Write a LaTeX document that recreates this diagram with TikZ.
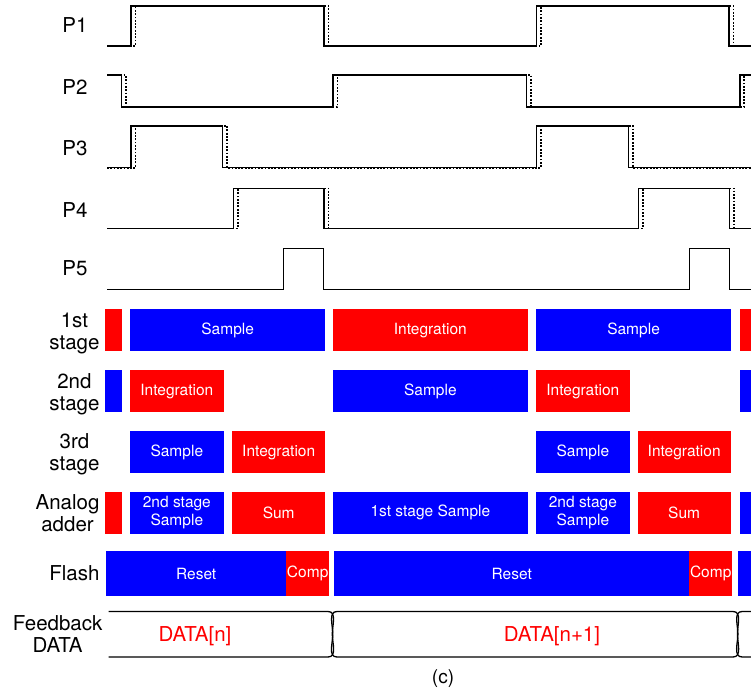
\documentclass[tikz,border=0pt]{standalone}
\usepackage{fontspec}
\setmainfont{TeX Gyre Heros}
\usepackage{xcolor}
\usepackage{tikz}
\usetikzlibrary{positioning}
\definecolor{phred}{HTML}{FF0000}
\definecolor{phblue}{HTML}{0000FF}
\newcommand{\phasefont}{\fontsize{15.5}{18.5}\selectfont}
\newcommand{\labfont}{\fontsize{20.5}{22}\selectfont}
\tikzset{
    wave/.style={
        line width=1.5pt, color=black
    },
    wavedot/.style={
        line width=1.6pt, color=black, dash pattern=on 1.8pt off 1.5pt
    },
    phasebox/.style={
        rectangle, fill=#1, draw=none, text=white,
        anchor=north west, inner sep=0pt,
        font=\phasefont, align=center
    },
    phasebox/.default=phblue,
    rowlab/.style={
        anchor=east, font=\labfont, align=center
    },
    buslab/.style={
        font=\labfont, text=phred
    },
    busline/.style={
        line width=1.3pt, color=black
    },
}
\begin{document}
\begin{tikzpicture}[x=1pt, y=-1pt]
    \useasboundingbox (0,0) rectangle (751,690);

    % Clock phases
    \node[rowlab] (p1) at (91,25) {P1};
    \node[rowlab] (p2) at (91,87) {P2};
    \node[rowlab] (p3) at (91,148) {P3};
    \node[rowlab] (p4) at (91,210) {P4};
    \node[rowlab] (p5) at (91,268) {P5};

    \draw[wave] (107,46) -- (131,46) -- (131,6) -- (324,6) -- (324,46) -- (536.7,46) -- (536.7,6) -- (729,6) -- (729,46) -- (751,46);
    \draw[wavedot] (107,46) -- (135.5,46) -- (135.5,6) -- (328.5,6) -- (328.5,46) -- (541,46) -- (541,6) -- (733.5,6) -- (733.5,46) -- (751,46);

    \draw[wave] (107,75) -- (121.7,75) -- (121.7,107) -- (333,107) -- (333,75) -- (526.7,75) -- (526.7,107) -- (740,107) -- (740,75) -- (751,75);
    \draw[wavedot] (107,75) -- (125.7,75) -- (125.7,107) -- (337.3,107) -- (337.3,75) -- (530.7,75) -- (530.7,107) -- (744,107) -- (744,75) -- (751,75);

    \draw[wave] (107,167.7) -- (131,167.7) -- (131,126) -- (222.7,126) -- (222.7,167.7) -- (536.7,167.7) -- (536.7,126) -- (628.3,126) -- (628.3,167.7) -- (751,167.7);
    \draw[wavedot] (107,167.7) -- (135.5,167.7) -- (135.5,126) -- (226.9,126) -- (226.9,167.7) -- (541,167.7) -- (541,126) -- (632.7,126) -- (632.7,167.7) -- (751,167.7);

    \draw[wave] (107,228.3) -- (233.3,228.3) -- (233.3,188.3) -- (324,188.3) -- (324,228.3) -- (638.3,228.3) -- (638.3,188.3) -- (729.3,188.3) -- (729.3,228.3) -- (751,228.3);
    \draw[wavedot] (107,228.3) -- (237.7,228.3) -- (237.7,188.3) -- (328.5,188.3) -- (328.5,228.3) -- (642.7,228.3) -- (642.7,188.3) -- (733.8,188.3) -- (733.8,228.3) -- (751,228.3);

    \draw[wave] (107,289.3) -- (283.3,289.3) -- (283.3,248.3) -- (323.3,248.3) -- (323.3,289.3) -- (689.3,289.3) -- (689.3,248.3) -- (729.3,248.3) -- (729.3,289.3) -- (751,289.3);

    % 1st stage
    \node[rowlab] (st1) at (103,333) {1st\\stage};
    \node[phasebox=phred, minimum width=17, minimum height=42] (s1a) at (105,309) {};
    \node[phasebox, minimum width=195, minimum height=42] (s1b) at (130,309) {Sample};
    \node[phasebox=phred, minimum width=194.3, minimum height=42] (s1c) at (333,309) {Integration};
    \node[phasebox, minimum width=194.7, minimum height=42] (s1d) at (536,309) {Sample};
    \node[phasebox=phred, minimum width=11.7, minimum height=42] (s1e) at (739.3,309) {};

    % 2nd stage
    \node[rowlab] (st2) at (103,394) {2nd\\stage};
    \node[phasebox, minimum width=17, minimum height=42] (s2a) at (105,370) {};
    \node[phasebox=phred, minimum width=93.3, minimum height=42] (s2b) at (130,370) {Integration};
    \node[phasebox, minimum width=194.3, minimum height=42] (s2c) at (333,370) {Sample};
    \node[phasebox=phred, minimum width=93.3, minimum height=42] (s2d) at (536,370) {Integration};
    \node[phasebox, minimum width=11.7, minimum height=42] (s2e) at (739.3,370) {};

    % 3rd stage
    \node[rowlab] (st3) at (103,454) {3rd\\stage};
    \node[phasebox, minimum width=93.3, minimum height=42] (s3a) at (130,431) {Sample};
    \node[phasebox=phred, minimum width=93, minimum height=42] (s3b) at (232,431) {Integration};
    \node[phasebox, minimum width=93.3, minimum height=42] (s3c) at (536,431) {Sample};
    \node[phasebox=phred, minimum width=93.3, minimum height=42] (s3d) at (637.3,431) {Integration};

    % Analog adder
    \node[rowlab] (add) at (103,513) {Analog\\adder};
    \node[phasebox=phred, minimum width=17, minimum height=41.6] (s4a) at (105,491.7) {};
    \node[phasebox, minimum width=93.3, minimum height=41.6] (s4b) at (130,491.7) {2nd stage\\Sample};
    \node[phasebox=phred, minimum width=93, minimum height=41.6] (s4c) at (232,491.7) {Sum};
    \node[phasebox, minimum width=194.3, minimum height=41.6] (s4d) at (333,491.7) {1st stage Sample};
    \node[phasebox, minimum width=93.3, minimum height=41.6] (s4e) at (536,491.7) {2nd stage\\Sample};
    \node[phasebox=phred, minimum width=93.3, minimum height=41.6] (s4f) at (637.3,491.7) {Sum};
    \node[phasebox, minimum width=11.7, minimum height=41.6] (s4g) at (739.3,491.7) {};

    % Flash
    \node[rowlab] (fl) at (103,573) {Flash};
    \node[phasebox, minimum width=180, minimum height=45] (f1) at (106,551) {Reset};
    \node[phasebox=phred, minimum width=43, minimum height=45] (f2) at (286,551) {Comp};
    \node[phasebox, minimum width=355, minimum height=45] (f3) at (334,551) {Reset};
    \node[phasebox=phred, minimum width=43, minimum height=45] (f4) at (689,551) {Comp};
    \node[phasebox, minimum width=13.5, minimum height=45] (f5) at (737.5,551) {};

    % Feedback data bus
    \node[rowlab] (fb) at (106,634) {Feedback\\DATA};
    \draw[busline] (108.7,611.5) -- (328,611.5) to[out=0,in=90] (332.3,634) to[out=-90,in=0] (328,657) -- (108.7,657);
    \draw[busline] (337,611.5) -- (733,611.5) to[out=0,in=90] (737.4,634) to[out=-90,in=0] (733,657) -- (337,657) to[out=180,in=-90] (332.8,634) to[out=90,in=180] cycle;
    \draw[busline] (751,611.5) -- (742.2,611.5) to[out=180,in=90] (737.9,634) to[out=-90,in=180] (742.2,657) -- (751,657);
    \node[buslab] (dn) at (195,636) {DATA[n]};
    \node[buslab] (dn1) at (552,636) {DATA[n+1]};

    \node[font=\fontsize{19}{21}\selectfont] (cap) at (443,679) {(c)};

\end{tikzpicture}
\end{document}
